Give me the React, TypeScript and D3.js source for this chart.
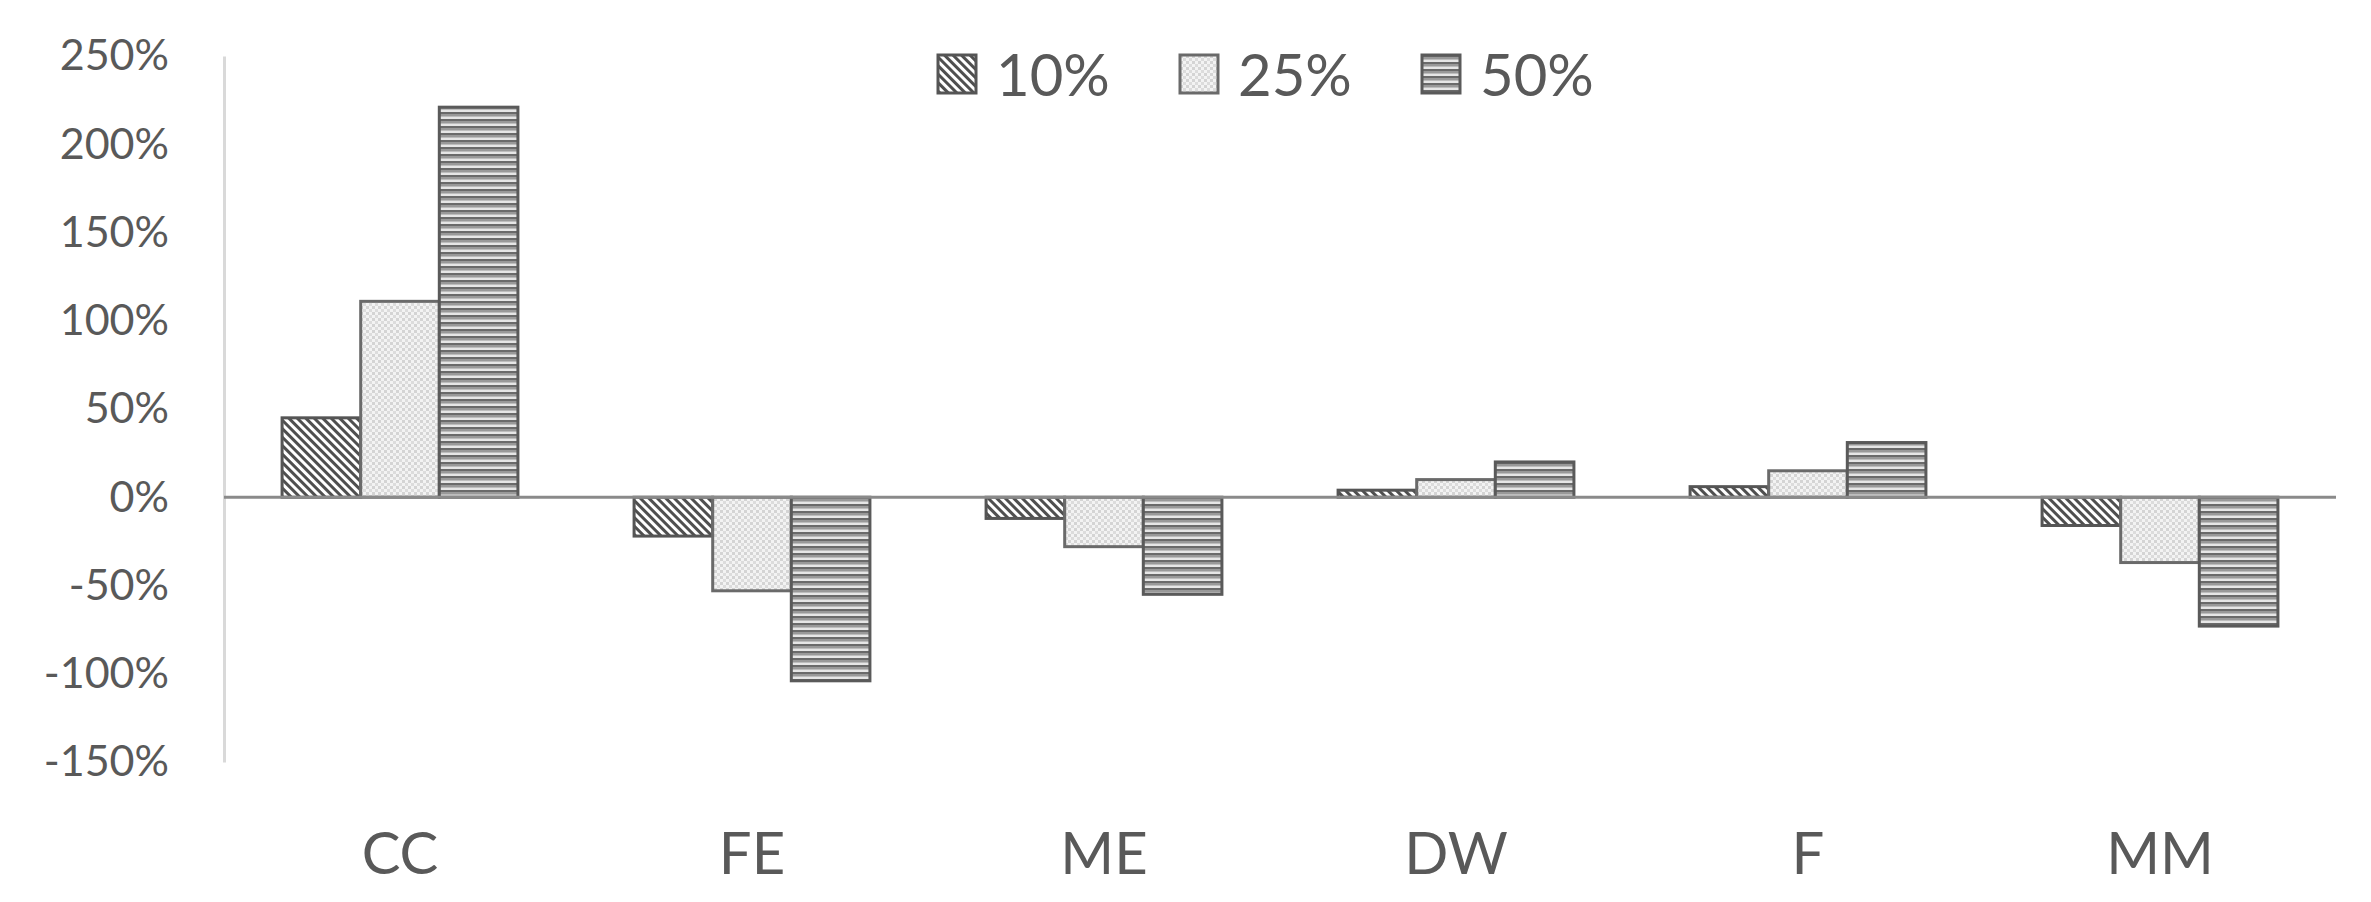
import React, { useEffect, useRef } from "react";
import * as d3 from "d3";

const categories = ["CC", "FE", "ME", "DW", "F", "MM"];
const seriesNames = ["10%", "25%", "50%"];
const values10 = [45, -22, -12, 4, 6, -16];
const values25 = [111, -53, -28, 10, 15, -37];
const values50 = [221, -104, -55, 20, 31, -73];
const yTicks = [-150, -100, -50, 0, 50, 100, 150, 200, 250];

const seriesValues = [values10, values25, values50];

const App = () => {
    const svgRef = useRef(null);

    useEffect(() => {
        const width = 2371;
        const height = 902;
        const left = 224;
        const right = 2336;
        const top = 56;
        const bottom = 762;
        const textColor = "#595959";
        const font = "Lato, 'Open Sans', sans-serif";

        const svg = d3.select(svgRef.current).attr("width", width).attr("height", height);
        svg.selectAll("*").remove();

        // fill patterns, one per series
        const defs = svg.append("defs");

        const p10 = defs
            .append("pattern")
            .attr("id", "pat10")
            .attr("patternUnits", "userSpaceOnUse")
            .attr("width", 6)
            .attr("height", 6)
            .attr("patternTransform", "rotate(45)");
        p10.append("rect").attr("width", 6).attr("height", 6).attr("fill", "#ffffff");
        p10.append("rect").attr("width", 6).attr("height", 3).attr("fill", "#4f4f4f");

        const p25 = defs
            .append("pattern")
            .attr("id", "pat25")
            .attr("patternUnits", "userSpaceOnUse")
            .attr("width", 6)
            .attr("height", 6);
        p25.append("rect").attr("width", 6).attr("height", 6).attr("fill", "#f3f3f3");
        p25.append("rect").attr("width", 3).attr("height", 3).attr("fill", "#d4d4d4");
        p25.append("rect").attr("x", 3).attr("y", 3).attr("width", 3).attr("height", 3).attr("fill", "#dcdcdc");

        const p50 = defs
            .append("pattern")
            .attr("id", "pat50")
            .attr("patternUnits", "userSpaceOnUse")
            .attr("width", 7)
            .attr("height", 7);
        p50.append("rect").attr("width", 7).attr("height", 7).attr("fill", "#e6e6e6");
        p50.append("rect").attr("width", 7).attr("height", 2).attr("fill", "#6a6a6a");
        p50.append("rect").attr("y", 2).attr("width", 7).attr("height", 2).attr("fill", "#999999");
        p50.append("rect").attr("y", 4).attr("width", 7).attr("height", 1).attr("fill", "#bdbdbd");

        const fills = ["url(#pat10)", "url(#pat25)", "url(#pat50)"];
        const strokes = ["#555555", "#6a6a6a", "#5a5a5a"];

        const x = d3.scaleBand().domain(categories).range([left, right]).paddingInner(0.33).paddingOuter(0.165);
        const xs = d3.scaleBand().domain(seriesNames).range([0, x.bandwidth()]);
        const y = d3.scaleLinear().domain([-150, 250]).range([bottom, top]);

        // y axis
        const yAxis = svg
            .append("g")
            .attr("transform", `translate(${left},0)`)
            .call(
                d3
                    .axisLeft(y)
                    .tickValues(yTicks)
                    .tickSize(0)
                    .tickSizeOuter(0)
                    .tickPadding(55)
                    .tickFormat((d) => `${d}%`)
            );
        yAxis.select(".domain").attr("stroke", "#d9d9d9").attr("stroke-width", 3);
        yAxis
            .selectAll("text")
            .attr("fill", textColor)
            .attr("font-size", 43)
            .attr("font-family", font);

        // bars
        seriesNames.forEach((s, i) => {
            svg.append("g")
                .selectAll("rect")
                .data(seriesValues[i])
                .enter()
                .append("rect")
                .attr("x", (d, j) => x(categories[j]) + xs(s))
                .attr("width", xs.bandwidth())
                .attr("y", (d) => y(Math.max(0, d)))
                .attr("height", (d) => Math.abs(y(d) - y(0)))
                .attr("fill", fills[i])
                .attr("stroke", strokes[i])
                .attr("stroke-width", 3);
        });

        // zero line
        svg.append("line")
            .attr("x1", left)
            .attr("x2", right)
            .attr("y1", y(0))
            .attr("y2", y(0))
            .attr("stroke", "#8a8a8a")
            .attr("stroke-width", 3);

        // category labels
        svg.append("g")
            .selectAll("text")
            .data(categories)
            .enter()
            .append("text")
            .attr("x", (d) => x(d) + x.bandwidth() / 2)
            .attr("y", 853)
            .attr("dy", "0.36em")
            .attr("text-anchor", "middle")
            .attr("fill", textColor)
            .attr("font-size", 58)
            .attr("font-family", font)
            .text((d) => d);

        // legend
        const legend = svg
            .append("g")
            .selectAll("g")
            .data(seriesNames)
            .enter()
            .append("g")
            .attr("transform", (d, i) => `translate(${938 + i * 242},55)`);
        legend
            .append("rect")
            .attr("width", 38)
            .attr("height", 38)
            .attr("fill", (d, i) => fills[i])
            .attr("stroke", (d, i) => strokes[i])
            .attr("stroke-width", 3);
        legend
            .append("text")
            .attr("x", 58)
            .attr("y", 20)
            .attr("dy", "0.36em")
            .attr("fill", textColor)
            .attr("font-size", 58)
            .attr("font-family", font)
            .text((d) => d);
    }, []);

    return <svg ref={svgRef} style={{ position: "absolute", left: 0, top: 0, background: "#fff" }}></svg>;
};

export default App;
